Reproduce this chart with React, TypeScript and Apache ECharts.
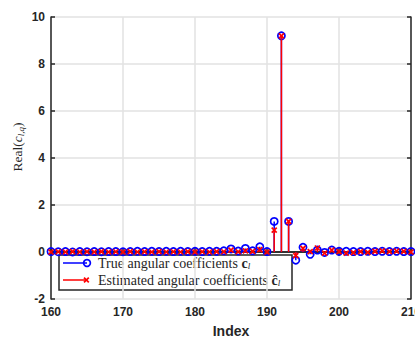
import React, { useEffect, useRef } from "react";
import * as echarts from "echarts";

const indices: number[] = [
  160, 161, 162, 163, 164, 165, 166, 167, 168, 169, 170, 171, 172, 173, 174, 175, 176,
  177, 178, 179, 180, 181, 182, 183, 184, 185, 186, 187, 188, 189, 190, 191, 192, 193,
  194, 195, 196, 197, 198, 199, 200, 201, 202, 203, 204, 205, 206, 207, 208, 209, 210,
];
const trueCoeffs: number[] = [
  0.02, 0.01, 0.02, 0.0, 0.02, 0.01, 0.02, 0.01, 0.02, 0.02, 0.01, 0.02, 0.03, 0.02, 0.03, 0.02, 0.03,
  0.02, 0.03, 0.02, 0.03, 0.02, 0.03, 0.03, 0.05, 0.13, 0.04, 0.15, 0.05, 0.22, 0.02, 1.3, 9.2, 1.3,
  -0.35, 0.2, -0.1, 0.08, -0.02, 0.08, 0.03, 0.03, 0.02, 0.02, 0.03, 0.02, 0.03, 0.02, 0.03, 0.02, 0.02,
];
const estCoeffs: number[] = [
  0.0, 0.01, 0.0, 0.02, 0.0, 0.01, 0.0, 0.02, 0.0, 0.01, 0.0, 0.02, 0.0, 0.01, 0.0, 0.02, 0.0,
  0.01, 0.0, 0.02, 0.0, 0.01, 0.0, 0.02, 0.01, 0.08, 0.01, 0.05, 0.03, 0.1, 0.0, 0.93, 9.2, 1.3,
  -0.15, 0.15, 0.02, 0.17, -0.05, 0.08, 0.02, -0.05, -0.03, 0.02, -0.02, 0.03, 0.05, 0.02, 0.04, 0.03, 0.0,
];
const yTicks = { min: -2, max: 10, interval: 2 };
const xTicks = { min: 160, max: 210, interval: 10 };
const legendTrue = "True angular coefficients ";
const legendEst = "Estimated angular coefficients ";

const AX = "#262626";

function stemSeries(values: number[], color: string, marker: "o" | "x") {
  return {
    type: "custom",
    clip: false,
    data: indices.map((x, i) => [x, values[i]]),
    renderItem: (_p: any, api: any) => {
      const x = api.value(0);
      const y = api.value(1);
      const p0 = api.coord([x, 0]);
      const p1 = api.coord([x, y]);
      const children: any[] = [
        {
          type: "line",
          shape: { x1: p0[0], y1: p0[1], x2: p1[0], y2: p1[1] },
          style: { stroke: color, lineWidth: 1.5 },
        },
      ];
      if (marker === "o") {
        children.push({
          type: "circle",
          shape: { cx: p1[0], cy: p1[1], r: 3.6 },
          style: { fill: "none", stroke: color, lineWidth: 1.7 },
        });
      } else {
        const s = 2.5;
        children.push(
          { type: "line", shape: { x1: p1[0] - s, y1: p1[1] - s, x2: p1[0] + s, y2: p1[1] + s }, style: { stroke: color, lineWidth: 1.7 } },
          { type: "line", shape: { x1: p1[0] - s, y1: p1[1] + s, x2: p1[0] + s, y2: p1[1] - s }, style: { stroke: color, lineWidth: 1.7 } }
        );
      }
      return { type: "group", children };
    },
  };
}

export default function App() {
  const ref = useRef<HTMLDivElement>(null);
  useEffect(() => {
    if (!ref.current) return;
    const chart = echarts.init(ref.current, null, { renderer: "svg" });
    const serif = "'Liberation Serif', 'DejaVu Serif', serif";
    const sans = "'Liberation Sans', Arial, sans-serif";
    const axisCommon = {
      axisLine: { show: true, lineStyle: { color: AX, width: 1.5 } },
      axisTick: { show: true, inside: true, length: 4, lineStyle: { color: AX, width: 1.5 } },
    };
    const legendRich = {
      n: { fontSize: 14, fontFamily: serif, fill: AX },
      b: { fontSize: 14, fontFamily: serif, fontWeight: "bold", fill: AX },
      s: { fontSize: 9, fontFamily: serif, fontStyle: "italic", fill: AX, padding: [6, 0, 0, 0] },
    };
    chart.setOption({
      animation: false,
      grid: { left: 51, top: 17, right: 4, bottom: 40, containLabel: false, outerBoundsMode: "none" },
      xAxis: [
        {
          type: "value",
          ...xTicks,
          ...axisCommon,
          axisLabel: { color: AX, fontWeight: "bold", fontSize: 12, fontFamily: sans, margin: 7 },
          splitLine: { show: true, lineStyle: { color: "#e2e2e2", width: 1.5 } },
          name: "Index",
          nameLocation: "middle",
          nameGap: 25,
          nameTextStyle: { color: AX, fontWeight: "bold", fontSize: 14, fontFamily: sans },
        },
        {
          type: "value",
          position: "top",
          ...xTicks,
          ...axisCommon,
          axisLabel: { show: false },
          splitLine: { show: false },
        },
      ],
      yAxis: [
        {
          type: "value",
          ...yTicks,
          ...axisCommon,
          axisLabel: { color: AX, fontWeight: "bold", fontSize: 12, fontFamily: sans, margin: 6 },
          splitLine: { show: true, lineStyle: { color: "#e2e2e2", width: 1.5 } },
        },
        {
          type: "value",
          position: "right",
          ...yTicks,
          ...axisCommon,
          axisLabel: { show: false },
          splitLine: { show: false },
        },
      ],
      series: [stemSeries(trueCoeffs, "#0000ff", "o"), stemSeries(estCoeffs, "#ff0000", "x")],
      graphic: [
        {
          type: "text",
          x: 17,
          y: 147,
          rotation: Math.PI / 2,
          style: {
            text: "{n|Real(}{i|c}{s|l,q}{n|)}",
            align: "center",
            verticalAlign: "middle",
            fill: AX,
            rich: {
              n: { fontSize: 13.5, fontFamily: serif, fill: AX },
              i: { fontSize: 13.5, fontFamily: serif, fontStyle: "italic", fill: AX },
              s: { fontSize: 9, fontFamily: serif, fontStyle: "italic", fill: AX, padding: [7, 0, 0, 0] },
            },
          },
        },
        {
          type: "group",
          z: 100,
          children: [
            {
              type: "rect",
              shape: { x: 59, y: 255, width: 233, height: 35 },
              style: { fill: "#ffffff", stroke: AX, lineWidth: 1.5 },
            },
            { type: "line", shape: { x1: 63, y1: 263, x2: 87, y2: 263 }, style: { stroke: "#0000ff", lineWidth: 1.5 } },
            { type: "circle", shape: { cx: 87, cy: 263, r: 3.4 }, style: { fill: "none", stroke: "#0000ff", lineWidth: 1.7 } },
            { type: "line", shape: { x1: 63, y1: 280, x2: 86, y2: 280 }, style: { stroke: "#ff0000", lineWidth: 1.5 } },
            { type: "line", shape: { x1: 84, y1: 277.6, x2: 88.8, y2: 282.4 }, style: { stroke: "#ff0000", lineWidth: 1.7 } },
            { type: "line", shape: { x1: 84, y1: 282.4, x2: 88.8, y2: 277.6 }, style: { stroke: "#ff0000", lineWidth: 1.7 } },
            {
              type: "text",
              x: 98,
              y: 263,
              style: {
                text: "{n|" + legendTrue + "}{b|c}{s|l}",
                verticalAlign: "middle",
                rich: legendRich,
              },
            },
            {
              type: "text",
              x: 98,
              y: 280,
              style: {
                text: "{n|" + legendEst + "}{b|ĉ}{s|l}",
                verticalAlign: "middle",
                rich: legendRich,
              },
            },
          ],
        },
      ],
    });
    return () => chart.dispose();
  }, []);
  return (
    <div
      ref={ref}
      style={{ position: "fixed", left: 0, top: 0, width: 415, height: 339, background: "#ffffff" }}
    />
  );
}
